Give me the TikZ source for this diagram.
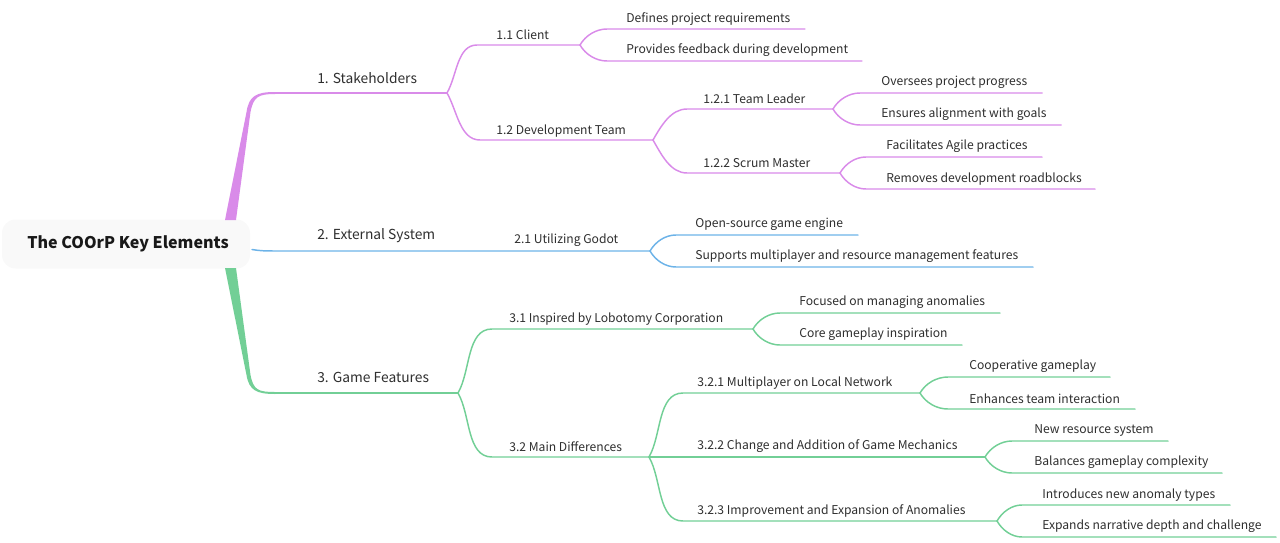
\documentclass[tikz,border=0pt]{standalone}
\usepackage{fontspec}
\setmainfont{Noto Sans CJK SC}
\definecolor{cpink}{HTML}{D98BE9}
\definecolor{cblue}{HTML}{6DB3E8}
\definecolor{cgreen}{HTML}{72CF96}
\definecolor{ctext}{HTML}{2E2E2E}
\tikzset{
  lbl/.style={anchor=west, inner sep=0pt, yshift=-1.2pt, text=ctext, font=\fontsize{9.1}{11}\selectfont},
  lone/.style={lbl, font=\fontsize{10.35}{12}\selectfont},
  ln/.style={line width=1.1pt, line cap=round},
  upb/.style={out=60, in=180, looseness=0.9},
  dnb/.style={out=-60, in=180, looseness=0.9},
}
\begin{document}
\begin{tikzpicture}[x=0.75pt, y=0.75pt]
\useasboundingbox (0,0) rectangle (1280,-542);
% root
\node[fill=black!2.5, rounded corners=10pt, minimum width=248*0.75pt, minimum height=49*0.75pt, inner sep=0pt] (rootbox) at (126,-244) {};
\node[anchor=west, inner sep=0pt, yshift=-1pt, text=black!90, font=\fontsize{12.05}{14}\bfseries] (root) at (27,-243) {The COOrP Key Elements};

% ---------------- pink: stakeholders
\coordinate (a1s) at (275,-93);
\coordinate (a1e) at (447,-93);
\fill[cpink] (225,-220) -- (236,-220) -- (250.5,-112) .. controls (253.5,-97) and (258,-94) .. (275,-94) -- (275,-92)
   .. controls (256,-92) and (249,-96) .. (246.5,-112) -- cycle;
\draw[ln, cpink] (a1s) -- (a1e);
\node[lone] (n1) at (317,-76) {1. Stakeholders};

\coordinate (c11s) at (477,-45); \coordinate (c11e) at (580,-45);
\coordinate (c12s) at (480,-140); \coordinate (c12e) at (653,-140);
\draw[ln, cpink] (a1e) to[upb] (c11s) -- (c11e);
\draw[ln, cpink] (a1e) to[dnb] (c12s) -- (c12e);
\node[lbl] (n11) at (496,-33) {1.1 Client};
\node[lbl] (n12) at (496,-129) {1.2 Development Team};

\coordinate (l1s) at (607,-29); \coordinate (l1e) at (805,-29);
\coordinate (l2s) at (607,-61); \coordinate (l2e) at (862,-61);
\draw[ln, cpink] (c11e) to[upb] (l1s) -- (l1e);
\draw[ln, cpink] (c11e) to[dnb] (l2s) -- (l2e);
\node[lbl] (t1) at (626,-17) {Defines project requirements};
\node[lbl] (t2) at (626,-49) {Provides feedback during development};

\coordinate (c121s) at (687,-109); \coordinate (c121e) at (833,-109);
\coordinate (c122s) at (687,-173); \coordinate (c122e) at (840,-173);
\draw[ln, cpink] (c12e) to[upb] (c121s) -- (c121e);
\draw[ln, cpink] (c12e) to[dnb] (c122s) -- (c122e);
\node[lbl] (n121) at (703,-97) {1.2.1 Team Leader};
\node[lbl] (n122) at (703,-161) {1.2.2 Scrum Master};

\coordinate (l3s) at (860,-93); \coordinate (l3e) at (1042,-93);
\coordinate (l4s) at (860,-125); \coordinate (l4e) at (1061,-125);
\draw[ln, cpink] (c121e) to[upb] (l3s) -- (l3e);
\draw[ln, cpink] (c121e) to[dnb] (l4s) -- (l4e);
\node[lbl] (t3) at (881,-81) {Oversees project progress};
\node[lbl] (t4) at (881,-113) {Ensures alignment with goals};

\coordinate (l5s) at (866,-157); \coordinate (l5e) at (1042,-157);
\coordinate (l6s) at (866,-189); \coordinate (l6e) at (1095,-189);
\draw[ln, cpink] (c122e) to[upb] (l5s) -- (l5e);
\draw[ln, cpink] (c122e) to[dnb] (l6s) -- (l6e);
\node[lbl] (t5) at (886,-145) {Facilitates Agile practices};
\node[lbl] (t6) at (886,-177) {Removes development roadblocks};

% ---------------- blue: external system
\coordinate (b1s) at (252,-249.5);
\coordinate (b1m) at (285,-251);
\coordinate (b1e) at (650,-251);
\draw[ln, cblue] (b1s) .. controls (262,-251) .. (b1m) -- (b1e);
\node[lone] (n2) at (317,-234) {2. External System};
\node[lbl] (n21) at (514,-239) {2.1 Utilizing Godot};
\coordinate (l7s) at (676,-235); \coordinate (l7e) at (858,-235);
\coordinate (l8s) at (676,-267); \coordinate (l8e) at (1033,-267);
\draw[ln, cblue] (b1e) to[upb] (l7s) -- (l7e);
\draw[ln, cblue] (b1e) to[dnb] (l8s) -- (l8e);
\node[lbl] (t7) at (695,-223) {Open-source game engine};
\node[lbl] (t8) at (695,-255) {Supports multiplayer and resource management features};

% ---------------- green: game features
\coordinate (g1s) at (275,-393);
\coordinate (g1e) at (458,-393);
\fill[cgreen] (225,-268) -- (236,-268) -- (250.5,-375) .. controls (253.5,-390) and (258,-392) .. (275,-392) -- (275,-394)
   .. controls (256,-394) and (249,-390) .. (246.5,-375) -- cycle;
\draw[ln, cgreen] (g1s) -- (g1e);
\node[lone] (n3) at (317,-376) {3. Game Features};

\coordinate (c31s) at (492,-329); \coordinate (c31e) at (753,-329);
\coordinate (c32s) at (492,-457); \coordinate (c32e) at (649,-457);
\draw[ln, cgreen] (g1e) to[upb] (c31s) -- (c31e);
\draw[ln, cgreen] (g1e) to[dnb] (c32s) -- (c32e);
\node[lbl] (n31) at (509,-317) {3.1 Inspired by Lobotomy Corporation};
\node[lbl] (n32) at (509,-445) {3.2 Main Differences};

\coordinate (l9s) at (780,-313); \coordinate (l9e) at (1000,-313);
\coordinate (l10s) at (780,-345); \coordinate (l10e) at (962,-345);
\draw[ln, cgreen] (c31e) to[upb] (l9s) -- (l9e);
\draw[ln, cgreen] (c31e) to[dnb] (l10s) -- (l10e);
\node[lbl] (t9) at (799,-301) {Focused on managing anomalies};
\node[lbl] (t10) at (799,-333) {Core gameplay inspiration};

\coordinate (c321s) at (683,-393); \coordinate (c321e) at (920,-393);
\coordinate (c322e) at (985,-457);
\coordinate (c323s) at (683,-521); \coordinate (c323e) at (997,-521);
\draw[ln, cgreen] (c32e) to[upb] (c321s) -- (c321e);
\draw[ln, cgreen] (c32e) -- (c322e);
\draw[ln, cgreen] (c32e) to[dnb] (c323s) -- (c323e);
\node[lbl] (n321) at (697,-381) {3.2.1 Multiplayer on Local Network};
\node[lbl] (n322) at (697,-445) {3.2.2 Change and Addition of Game Mechanics};
\node[lbl] (n323) at (697,-509) {3.2.3 Improvement and Expansion of Anomalies};

\coordinate (l11s) at (948,-377); \coordinate (l11e) at (1110,-377);
\coordinate (l12s) at (948,-409); \coordinate (l12e) at (1135,-409);
\draw[ln, cgreen] (c321e) to[upb] (l11s) -- (l11e);
\draw[ln, cgreen] (c321e) to[dnb] (l12s) -- (l12e);
\node[lbl] (t11) at (969,-365) {Cooperative gameplay};
\node[lbl] (t12) at (969,-397) {Enhances team interaction};

\coordinate (l13s) at (1012,-441); \coordinate (l13e) at (1168,-441);
\coordinate (l14s) at (1012,-473); \coordinate (l14e) at (1222,-473);
\draw[ln, cgreen] (c322e) to[upb] (l13s) -- (l13e);
\draw[ln, cgreen] (c322e) to[dnb] (l14s) -- (l14e);
\node[lbl] (t13) at (1034,-429) {New resource system};
\node[lbl] (t14) at (1034,-461) {Balances gameplay complexity};

\coordinate (l15s) at (1022,-505); \coordinate (l15e) at (1230,-505);
\coordinate (l16s) at (1022,-537); \coordinate (l16e) at (1276,-537);
\draw[ln, cgreen] (c323e) to[upb] (l15s) -- (l15e);
\draw[ln, cgreen] (c323e) to[dnb] (l16s) -- (l16e);
\node[lbl] (t15) at (1042,-493) {Introduces new anomaly types};
\node[lbl] (t16) at (1042,-525) {Expands narrative depth and challenge};
\end{tikzpicture}
\end{document}
